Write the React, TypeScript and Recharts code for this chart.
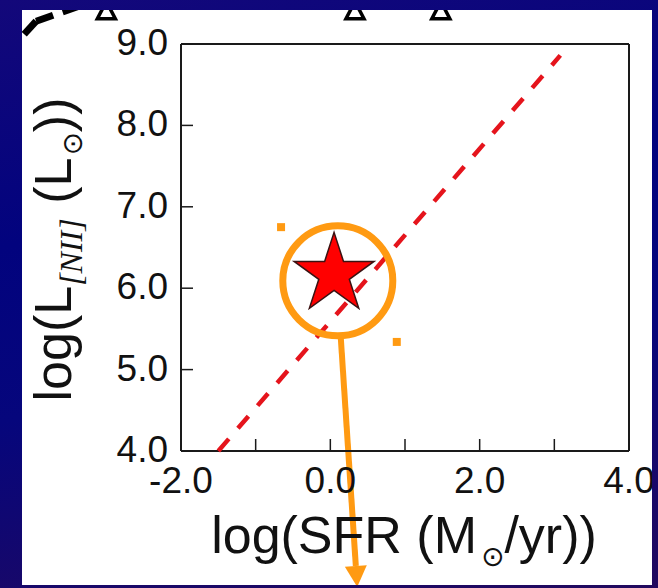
import React from 'react';
import { ScatterChart, Scatter, XAxis, YAxis, ReferenceDot, ReferenceLine } from 'recharts';

// axis ticks
const X_TICKS = [-2, -1, 0, 1, 2, 3, 4];
const X_TICK_LABELS = [-2, 0, 2, 4];
const Y_TICKS = [4, 5, 6, 7, 8, 9];

// fitted L_[NII] - SFR relation (ends of the dashed line)
const FIT_SFR = [-1.5, 3.08];
const FIT_LNII = [4.0, 8.86];

// the source (red star)
const SOURCE_SFR = [0.05];
const SOURCE_LNII = [6.17];

// orange highlight drawn over the star
const RING_SFR = 0.1;
const RING_LNII = 6.09;
const HANDLE_SFR = [-0.66, 0.89];
const HANDLE_LNII = [6.75, 5.34];
const ARROW_SFR = [0.14, 0.36];
const ARROW_LNII = [5.39, 2.33];

// bits of the figure above, cut off by the slide frame
const TOP_MARKER_SFR = [-3.0, 0.33, 1.48];
const TOP_MARKER_LNII = 9.41;
const TOP_CURVE_SFR = [-4.1, -3.94, -3.35];
const TOP_CURVE_LNII = [9.12, 9.28, 9.47];

const RED = '#e5141c';
const ORANGE = '#ff9a12';
const INK = '#1a1a1a';
const SANS = '"Liberation Sans", Arial, Helvetica, sans-serif';

const fitData = FIT_SFR.map((s, i) => ({ sfr: s, lnii: FIT_LNII[i] }));
const sourceData = SOURCE_SFR.map((s, i) => ({ sfr: s, lnii: SOURCE_LNII[i] }));

const TICK_LEN = 12;

const BottomTick = ({ x, y, payload }: any) => (
    <g>
        <line x1={x} y1={y} x2={x} y2={y - TICK_LEN} stroke={INK} strokeWidth={1.5} />
        {X_TICK_LABELS.includes(payload.value) && (
            <text x={x} y={y + 42} textAnchor="middle" fontSize={37} fontFamily={SANS} fill="#111">
                {payload.value.toFixed(1)}
            </text>
        )}
    </g>
);

const TopTick = ({ x, y }: any) => (
    <line x1={x} y1={y} x2={x} y2={y + TICK_LEN} stroke={INK} strokeWidth={1.5} />
);

const LeftTick = ({ x, y, payload }: any) => (
    <g>
        <line x1={x} y1={y} x2={x + TICK_LEN} y2={y} stroke={INK} strokeWidth={1.5} />
        <text x={x - 13} y={y + 11} textAnchor="end" fontSize={37} fontFamily={SANS} fill="#111">
            {payload.value.toFixed(1)}
        </text>
    </g>
);

const RightTick = ({ x, y }: any) => (
    <line x1={x} y1={y} x2={x - TICK_LEN} y2={y} stroke={INK} strokeWidth={1.5} />
);

const XTitle = ({ viewBox }: any) => {
    const cx = viewBox.x + viewBox.width / 2 - 1;
    const by = viewBox.y + 102;
    return (
        <text x={cx} y={by} textAnchor="middle" fontSize={52} fontFamily={SANS} fill="#111">
            log(SFR (M
            <tspan dx={4} dy={13} fontSize={28} fontFamily='"DejaVu Sans", sans-serif'>⊙</tspan>
            <tspan dy={-13}>/yr))</tspan>
        </text>
    );
};

const YTitle = ({ viewBox }: any) => {
    const bx = viewBox.x + 71;
    const cy = viewBox.y + viewBox.height / 2 + 2;
    return (
        <text
            x={bx}
            y={cy}
            transform={`rotate(-90, ${bx}, ${cy})`}
            textAnchor="middle"
            fontSize={52}
            fontFamily={SANS}
            fill="#111"
        >
            log(L
            <tspan dy={11} fontSize={32} fontStyle="italic" fontFamily='"Liberation Serif", "DejaVu Serif", serif'>[NII]</tspan>
            <tspan dy={-11}> (L</tspan>
            <tspan dx={2} dy={11} fontSize={28} fontFamily='"DejaVu Sans", sans-serif'>⊙</tspan>
            <tspan dy={-11}>))</tspan>
        </text>
    );
};

const StarShape = ({ cx, cy }: any) => {
    const R = 42;
    const r = R * 0.382;
    const pts: string[] = [];
    for (let i = 0; i < 10; i++) {
        const a = -Math.PI / 2 + (i * Math.PI) / 5;
        const rad = i % 2 === 0 ? R : r;
        pts.push(`${cx + rad * Math.cos(a)},${cy + rad * Math.sin(a)}`);
    }
    return <polygon points={pts.join(' ')} fill="#ff0000" stroke="#3a1212" strokeWidth={1.5} />;
};

const HandleShape = ({ cx, cy }: any) => (
    <rect x={cx - 4} y={cy - 4} width={8} height={8} fill={ORANGE} />
);

const TriangleShape = ({ cx, cy }: any) => (
    <polygon
        points={`${cx},${cy - 9} ${cx + 9},${cy + 8} ${cx - 9},${cy + 8}`}
        fill="#fff"
        stroke="#000"
        strokeWidth={3.5}
        strokeLinejoin="miter"
    />
);

const ArrowShape = ({ x1, y1, x2, y2 }: any) => {
    const len = Math.hypot(x2 - x1, y2 - y1) || 1;
    const ux = (x2 - x1) / len;
    const uy = (y2 - y1) / len;
    const head = 21;
    const half = 11;
    const bx = x2 - ux * head;
    const by = y2 - uy * head;
    return (
        <g>
            <line x1={x1} y1={y1} x2={bx} y2={by} stroke={ORANGE} strokeWidth={6} />
            <polygon
                points={`${x2},${y2} ${bx - uy * half},${by + ux * half} ${bx + uy * half},${by - ux * half}`}
                fill={ORANGE}
            />
        </g>
    );
};

const NoPoint = () => <g />;

export default function App() {
    return (
        <div
            style={{
                position: 'fixed',
                left: 0,
                top: 0,
                width: 658,
                height: 588,
                background: 'linear-gradient(170deg, #13087a 0%, #02037e 35%, #06067c 60%, #22095e 100%)',
                overflow: 'hidden',
            }}
        >
            <div
                style={{
                    position: 'absolute',
                    left: 22,
                    top: 10,
                    width: 630,
                    height: 575,
                    background: '#ffffff',
                    overflow: 'hidden',
                }}
            >
                <div style={{ position: 'absolute', left: -22, top: -10 }}>
                    <ScatterChart width={658} height={588} margin={{ top: 43, right: 28, bottom: 0, left: 0 }}>
                        <XAxis
                            dataKey="sfr"
                            type="number"
                            domain={[-2, 4]}
                            ticks={X_TICKS}
                            interval={0}
                            height={137}
                            tickSize={0}
                            tickMargin={0}
                            tickLine={false}
                            axisLine={{ stroke: INK, strokeWidth: 2 }}
                            tick={(p: any) => <BottomTick {...p} />}
                            label={(p: any) => <XTitle {...p} />}
                        />
                        <XAxis
                            xAxisId="top"
                            orientation="top"
                            type="number"
                            domain={[-2, 4]}
                            ticks={X_TICKS}
                            interval={0}
                            height={1}
                            tickSize={0}
                            tickMargin={0}
                            tickLine={false}
                            axisLine={{ stroke: INK, strokeWidth: 2 }}
                            tick={(p: any) => <TopTick {...p} />}
                        />
                        <YAxis
                            dataKey="lnii"
                            type="number"
                            domain={[4, 9]}
                            ticks={Y_TICKS}
                            interval={0}
                            width={181}
                            tickSize={0}
                            tickMargin={0}
                            tickLine={false}
                            axisLine={{ stroke: INK, strokeWidth: 2 }}
                            tick={(p: any) => <LeftTick {...p} />}
                            label={(p: any) => <YTitle {...p} />}
                        />
                        <YAxis
                            yAxisId="right"
                            orientation="right"
                            type="number"
                            domain={[4, 9]}
                            ticks={Y_TICKS}
                            interval={0}
                            width={1}
                            tickSize={0}
                            tickMargin={0}
                            tickLine={false}
                            axisLine={{ stroke: INK, strokeWidth: 2 }}
                            tick={(p: any) => <RightTick {...p} />}
                        />

                        {/* fitted relation */}
                        <Scatter
                            data={fitData}
                            line={{ stroke: RED, strokeWidth: 4.5, strokeDasharray: '16 14' }}
                            shape={NoPoint}
                            isAnimationActive={false}
                        />

                        {/* the source */}
                        <Scatter data={sourceData} shape={StarShape} isAnimationActive={false} />

                        {/* orange highlight */}
                        <ReferenceDot
                            x={RING_SFR}
                            y={RING_LNII}
                            r={55}
                            fill="none"
                            stroke={ORANGE}
                            strokeWidth={7}
                            ifOverflow="visible"
                        />
                        {HANDLE_SFR.map((s, i) => (
                            <ReferenceDot
                                key={`h-${i}`}
                                x={s}
                                y={HANDLE_LNII[i]}
                                ifOverflow="visible"
                                shape={HandleShape}
                            />
                        ))}
                        <ReferenceLine
                            segment={[
                                { x: ARROW_SFR[0], y: ARROW_LNII[0] },
                                { x: ARROW_SFR[1], y: ARROW_LNII[1] },
                            ]}
                            ifOverflow="visible"
                            shape={ArrowShape}
                        />

                        {/* leftovers of the figure above */}
                        {TOP_MARKER_SFR.map((s, i) => (
                            <ReferenceDot
                                key={`t-${i}`}
                                x={s}
                                y={TOP_MARKER_LNII}
                                ifOverflow="visible"
                                shape={TriangleShape}
                            />
                        ))}
                        {TOP_CURVE_SFR.slice(1).map((s, i) => (
                            <ReferenceLine
                                key={`c-${i}`}
                                segment={[
                                    { x: TOP_CURVE_SFR[i], y: TOP_CURVE_LNII[i] },
                                    { x: s, y: TOP_CURVE_LNII[i + 1] },
                                ]}
                                ifOverflow="visible"
                                stroke="#000"
                                strokeWidth={7}
                                strokeDasharray="18 10"
                            />
                        ))}
                    </ScatterChart>
                </div>
            </div>
        </div>
    );
}
